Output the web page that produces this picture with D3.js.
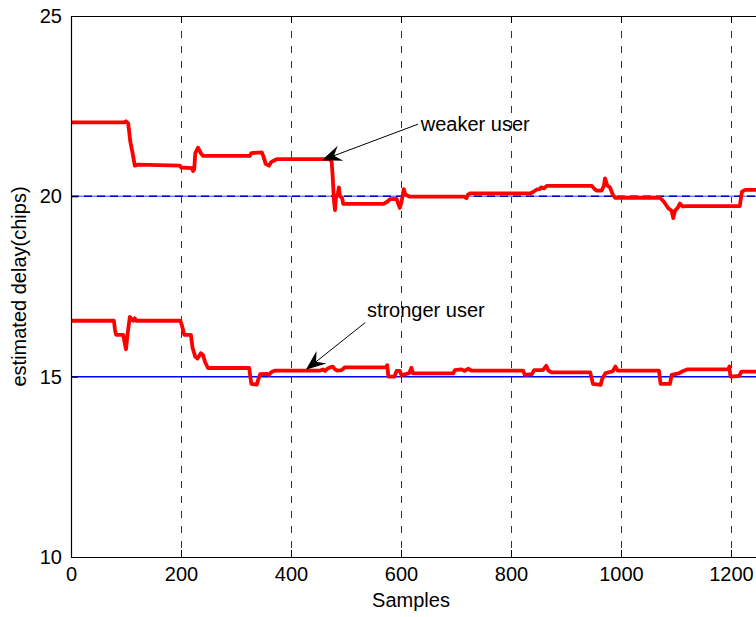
<!DOCTYPE html>
<html><head><meta charset="utf-8">
<script src="https://cdn.jsdelivr.net/npm/d3@7"></script>
<style>html,body{margin:0;padding:0;background:#fff;overflow:hidden}svg{display:block}</style>
</head><body>
<svg id="c" width="756" height="617"></svg>
<script>
const xTicks = [0,200,400,600,800,1000,1200];
const yTicks = [10,15,20,25];
const refLevels = [15,20];
const weaker = [[0,22.05],[97,22.05],[100,22.08],[104,22.02],[108,21.5],[112,21.2],[116,20.85],[122,20.88],[198,20.85],[200,20.8],[220,20.78],[222,20.7],[224,20.75],[226,21.2],[231,21.35],[236,21.2],[240,21.12],[325,21.12],[328,21.2],[347,21.22],[350,21.1],[354,20.9],[360,20.85],[364,20.95],[370,21.0],[374,21.03],[471,21.03],[474,20.95],[476,20.5],[478,19.9],[480,19.62],[482,20.0],[485,20.05],[487,20.25],[489,20.0],[493,19.95],[495,19.79],[568,19.79],[575,19.85],[580,19.92],[592,19.93],[596,19.75],[598,19.68],[601,19.85],[605,20.2],[608,20.05],[616,19.99],[715,19.99],[719,19.95],[722,20.05],[725,20.08],[835,20.08],[840,20.12],[847,20.19],[852,20.2],[855,20.25],[860,20.22],[865,20.29],[947,20.29],[952,20.2],[956,20.16],[965,20.16],[969,20.3],[971,20.5],[975,20.3],[980,20.25],[985,20.05],[989,19.96],[1071,19.96],[1078,19.85],[1086,19.67],[1092,19.6],[1095,19.4],[1098,19.6],[1103,19.68],[1107,19.8],[1112,19.72],[1120,19.73],[1216,19.73],[1218,19.95],[1220,20.13],[1226,20.18],[1250,20.18]];
const stronger = [[0,16.55],[78,16.55],[80,16.3],[82,16.16],[95,16.16],[98,15.9],[100,15.76],[103,16.2],[107,16.66],[110,16.6],[113,16.55],[116,16.62],[118,16.55],[199,16.55],[202,16.4],[206,16.16],[218,16.16],[221,15.8],[226,15.55],[230,15.5],[236,15.65],[240,15.6],[244,15.4],[249,15.24],[324,15.24],[326,15.0],[328,14.8],[338,14.78],[341,14.95],[344,15.07],[356,15.08],[360,15.05],[364,15.12],[371,15.17],[453,15.17],[458,15.2],[462,15.16],[466,15.22],[470,15.25],[476,15.28],[480,15.2],[484,15.17],[492,15.18],[498,15.26],[573,15.26],[575,15.32],[577,15.0],[588,15.0],[592,15.16],[598,15.16],[601,15.04],[615,15.1],[619,15.25],[622,15.09],[695,15.09],[698,15.18],[710,15.2],[716,15.16],[722,15.22],[728,15.17],[822,15.17],[825,15.05],[838,15.07],[842,15.18],[858,15.18],[864,15.3],[868,15.17],[874,15.12],[944,15.12],[949,14.8],[963,14.77],[966,14.95],[972,15.1],[985,15.15],[990,15.28],[994,15.17],[1069,15.17],[1072,14.8],[1089,14.8],[1092,15.05],[1105,15.09],[1112,15.15],[1120,15.2],[1195,15.2],[1197,15.28],[1199,15.0],[1215,15.02],[1219,15.14],[1250,15.14]];
const annotations = [
  {text:"weaker user", tx:636, ty:22.0, from:[631,22.0], to:[456,21.0]},
  {text:"stronger user", tx:538, ty:16.85, from:[535,16.5], to:[427,15.19]}
];

const svg = d3.select("#c");
const L=71, T=16, B=557;
const x = d3.scaleLinear().domain([0,1400]).range([L, L+770]);
const y = d3.scaleLinear().domain([10,25]).range([B, T]);
const font = "Liberation Sans, Arial, sans-serif";
const fs = 20;

// grid
svg.append("g").selectAll("line").data(xTicks.filter(d=>d>0)).join("line")
  .attr("x1",d=>x(d)+0.5).attr("x2",d=>x(d)+0.5).attr("y1",T).attr("y2",B)
  .attr("stroke","#333").attr("stroke-width",1).attr("stroke-dasharray","7,8");

// reference lines
svg.append("line").attr("x1",x(0)).attr("x2",x(1400)).attr("y1",y(refLevels[0])).attr("y2",y(refLevels[0]))
  .attr("stroke","#0000ff").attr("stroke-width",1.5);
svg.append("line").attr("x1",x(0)).attr("x2",x(1400)).attr("y1",y(refLevels[1])).attr("y2",y(refLevels[1]))
  .attr("stroke","#6c86ff").attr("stroke-width",1.5);
svg.append("line").attr("x1",x(0)).attr("x2",x(1400)).attr("y1",y(refLevels[1])).attr("y2",y(refLevels[1]))
  .attr("stroke","#0000b8").attr("stroke-width",1.5).attr("stroke-dasharray","8,5");

// data
const line = d3.line().x(d=>x(d[0])).y(d=>y(d[1]));
[weaker, stronger].forEach(s=>{
  svg.append("path").datum(s).attr("d",line).attr("fill","none")
    .attr("stroke","#ff0000").attr("stroke-width",3.8).attr("stroke-linejoin","round");
});

// axes box
const axB = d3.axisBottom(x).tickValues(xTicks).tickFormat(d3.format("d")).tickSize(-7).tickPadding(10).tickSizeOuter(0);
const gx = svg.append("g").attr("transform",`translate(0,${B})`).call(axB);
const axL = d3.axisLeft(y).tickValues(yTicks).tickSize(-7).tickPadding(9).tickSizeOuter(0);
const gy = svg.append("g").attr("transform",`translate(${L},0)`).call(axL);
const axT = d3.axisTop(x).tickValues(xTicks).tickSize(-7).tickFormat("").tickSizeOuter(0);
svg.append("g").attr("transform",`translate(0,${T})`).call(axT);
svg.selectAll(".domain").attr("stroke","#000").attr("stroke-width",1.2);
svg.selectAll(".tick line").attr("stroke","#000");
svg.selectAll(".tick text").attr("font-family",font).attr("font-size",fs).attr("fill","#000");
gx.selectAll(".tick text").attr("dy","0.72em");

// labels
svg.append("text").attr("x",411).attr("y",607).attr("text-anchor","middle")
  .attr("font-family",font).attr("font-size",fs).text("Samples");
svg.append("text").attr("transform",`translate(26,${(T+B)/2}) rotate(-90)`).attr("text-anchor","middle")
  .attr("font-family",font).attr("font-size",fs).text("estimated delay(chips)");

// annotations
annotations.forEach(a=>{
  const x0=x(a.from[0]), y0=y(a.from[1]), x1=x(a.to[0]), y1=y(a.to[1]);
  const ang=Math.atan2(y1-y0,x1-x0), len=20, w=8;
  const bx=x1-len*Math.cos(ang), by=y1-len*Math.sin(ang);
  const nx=x1-len*0.65*Math.cos(ang), ny=y1-len*0.65*Math.sin(ang);
  const px=-Math.sin(ang), py=Math.cos(ang);
  svg.append("line").attr("x1",x0).attr("y1",y0).attr("x2",nx).attr("y2",ny)
    .attr("stroke","#000").attr("stroke-width",1);
  svg.append("path").attr("d",`M${x1},${y1}L${bx+px*w},${by+py*w}L${nx},${ny}L${bx-px*w},${by-py*w}Z`)
    .attr("fill","#000");
  svg.append("text").attr("x",x(a.tx)).attr("y",y(a.ty)).attr("dy","0.35em")
    .attr("font-family",font).attr("font-size",fs).text(a.text);
});
</script>
</body></html>
